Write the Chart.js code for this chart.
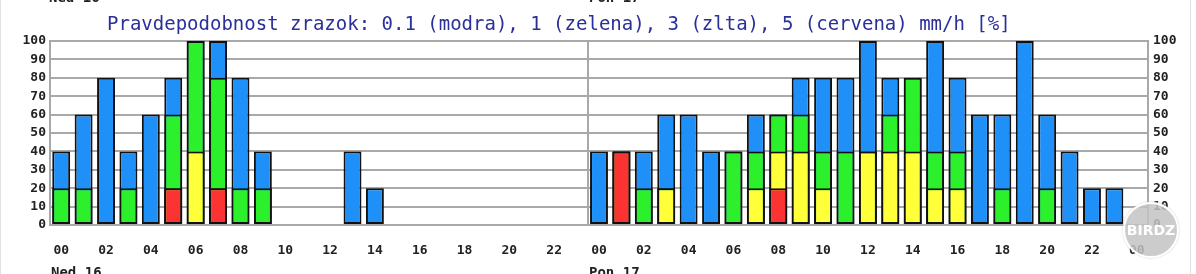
<!DOCTYPE html>
<html lang="sk">
<head>
    <meta charset="UTF-8">
    <title>Pravdepodobnost zrazok</title>
    <script src="https://cdn.jsdelivr.net/npm/chart.js"></script>
    <style>
        body{
            margin: 0;
            background: #fff;
        }
        .wrap{
            position: relative;
            width: 1196px;
            height: 274px;
            overflow: hidden;
            border-left: 1px solid #e2e2e2;
            box-sizing: border-box;
        }
        .edge{
            position: absolute;
            top: 0;
            left: 1189px;
            width: 1px;
            height: 274px;
            background: #e2e2e2;
        }
        .nadpis{
            position: absolute;
            left: 106px;
            top: 12px;
            font-family: "DejaVu Sans Mono", monospace;
            font-size: 19px;
            color: #2a2f99;
            white-space: pre;
        }
        .day{
            position: absolute;
            font-family: "DejaVu Sans Mono", monospace;
            font-weight: bold;
            font-size: 14px;
            color: #222;
        }
        .birdz{
            position: absolute;
            left: 1122px;
            top: 202px;
            width: 52px;
            height: 52px;
            border-radius: 50%;
            background: rgba(195,195,195,0.85);
            border: 2px solid #fff;
            box-shadow: 0 0 2px #bbb;
            color: #fff;
            font-family: "DejaVu Sans", sans-serif;
            font-weight: bold;
            font-size: 14px;
            line-height: 52px;
            text-align: center;
        }
    </style>
</head>
<body>
<div class="wrap">
    <canvas id="graf" width="1196" height="274"></canvas>
    <div class="nadpis">Pravdepodobnost zrazok: 0.1 (modra), 1 (zelena), 3 (zlta), 5 (cervena) mm/h [%]</div>
    <div class="edge"></div>
    <div class="day" style="left:48px; top:-11px;">Ned 16</div>
    <div class="day" style="left:588px; top:-11px;">Pon 17</div>
    <div class="day" style="left:50px; top:264px;">Ned 16</div>
    <div class="day" style="left:588px; top:264px;">Pon 17</div>
    <div class="birdz">BIRDZ</div>
</div>
<script>
// hodiny: dva dni + zaciatok tretieho
const hodiny = [
    '00','01','02','03','04','05','06','07','08','09','10','11',
    '12','13','14','15','16','17','18','19','20','21','22','23',
    '00','01','02','03','04','05','06','07','08','09','10','11',
    '12','13','14','15','16','17','18','19','20','21','22','23',
    '00'
];
// pravdepodobnost [%] pre 0.1 / 1 / 3 / 5 mm/h
const modra = [
    40,60,80,40,60,80,100,100,80,40,0,0, 0,40,20,0,0,0,0,0,0,0,0,0,
    40,40,40,60,60,40,40,60,60,80,80,80, 100,80,80,100,80,60,60,100,60,40,20,20,
    null
];
const zelena = [
    20,20,0,20,0,60,100,80,20,20,0,0, 0,0,0,0,0,0,0,0,0,0,0,0,
    0,40,20,20,0,0,40,40,60,60,40,40, 40,60,80,40,40,0,20,0,20,0,0,0,
    null
];
const zlta = [
    0,0,0,0,0,20,40,20,0,0,0,0, 0,0,0,0,0,0,0,0,0,0,0,0,
    0,40,0,20,0,0,0,20,40,40,20,0, 40,40,40,20,20,0,0,0,0,0,0,0,
    null
];
const cervena = [
    0,0,0,0,0,20,0,20,0,0,0,0, 0,0,0,0,0,0,0,0,0,0,0,0,
    0,40,0,0,0,0,0,0,20,0,0,0, 0,0,0,0,0,0,0,0,0,0,0,0,
    null
];
const yTicks = [0,10,20,30,40,50,60,70,80,90,100];

const seda = '#a9a9a9';
const tickFont = {family: 'DejaVu Sans Mono', size: 13, weight: 'bold'};

function sada(data, farba, poradie){
    return {
        data: data,
        backgroundColor: farba,
        borderColor: '#111',
        borderWidth: 2,
        borderSkipped: false,
        order: poradie,
        grouped: false,
        barPercentage: 0.8,
        categoryPercentage: 1.0
    };
}

const fixWidth = (w) => (scale) => { scale.width = w; };
const setTicks = (scale) => { scale.ticks = yTicks.map(v => ({value: v})); };

new Chart(document.getElementById('graf'), {
    type: 'bar',
    data: {
        labels: hodiny,
        datasets: [
            sada(modra, '#1e90f8', 4),
            sada(zelena, '#2cf02c', 3),
            sada(zlta, '#ffff3a', 2),
            sada(cervena, '#fb3333', 1)
        ]
    },
    options: {
        responsive: false,
        animation: false,
        layout: {padding: {left: 0, right: 0, top: 41, bottom: 0}},
        plugins: {
            legend: {display: false},
            tooltip: {enabled: false}
        },
        scales: {
            x: {
                grid: {
                    offset: true,
                    drawTicks: false,
                    lineWidth: 2,
                    color: (c) => (c.index === 24 ? seda : 'transparent')
                },
                border: {color: seda, width: 2},
                ticks: {
                    autoSkip: false,
                    maxRotation: 0,
                    padding: 18,
                    color: '#222',
                    font: tickFont,
                    callback: function(v, i){ return i % 2 === 0 ? hodiny[i] : ''; }
                },
                afterFit: (scale) => { scale.height = 49; }
            },
            y: {
                position: 'left',
                min: 0,
                max: 100,
                afterBuildTicks: setTicks,
                grid: {color: seda, lineWidth: 2, drawTicks: false},
                border: {color: seda, width: 2},
                ticks: {autoSkip: false, padding: 4, color: '#222', font: tickFont},
                afterFit: fixWidth(49)
            },
            y2: {
                position: 'right',
                min: 0,
                max: 100,
                afterBuildTicks: setTicks,
                grid: {display: false, drawTicks: false},
                border: {color: seda, width: 2},
                ticks: {autoSkip: false, padding: 5, color: '#222', font: tickFont},
                afterFit: fixWidth(49)
            }
        }
    }
});
</script>
</body>
</html>
